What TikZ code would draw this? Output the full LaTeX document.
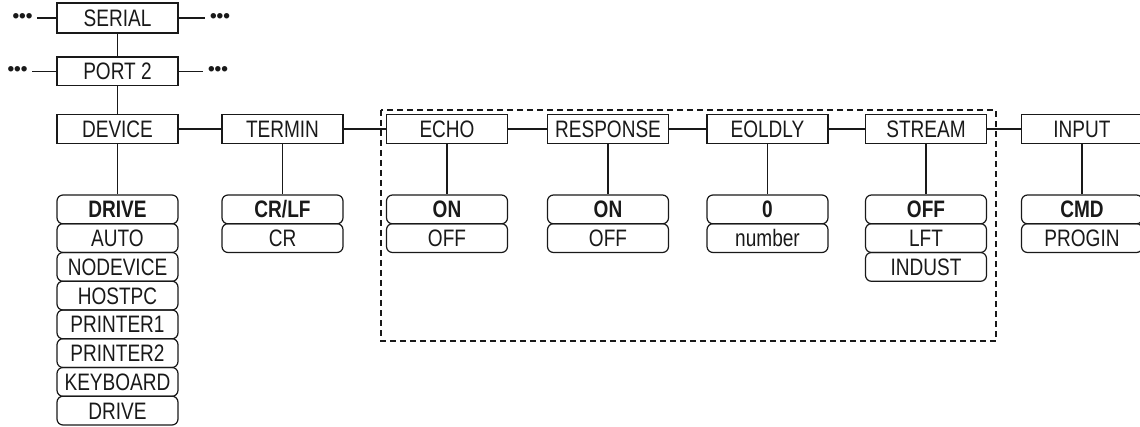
\documentclass[tikz,border=0pt]{standalone}
\usepackage{fontspec}
\setmainfont{Liberation Sans}[FakeStretch=0.8]
\newfontfamily\dotfont{Liberation Sans}
\usetikzlibrary{positioning}

\begin{document}
\begin{tikzpicture}[
                x=0.5pt, y=-0.5pt,
                color=black!90,
                line width=0.6pt,
                menu/.style={
                        draw,
                        minimum width=60.5pt,
                        minimum height=14.4pt,
                        inner sep=0pt,
                        text height=8.5pt,
                        text depth=0pt,
                        font=\fontsize{11.9}{13}\selectfont
                    },
                opt/.style={menu, rounded corners=3pt},
                dflt/.style={opt, font=\fontsize{11.9}{13}\selectfont\bfseries},
                more/.style={inner sep=0pt, inner xsep=2pt, font=\dotfont\fontsize{9.5}{11}\selectfont\bfseries},
                group/.style={dashed, dash pattern=on 3pt off 2pt}
            ]
            \useasboundingbox (0,0) rectangle (1140,427);

            % Niveles superiores
            \node[menu, minimum height=15pt] (serial) at (117.5,18) {SERIAL};
            \node[more] (serial-l) at (22.5,18) {•••};
            \node[more] (serial-r) at (220,18) {•••};
            \node[menu] (port) at (117.5,71.5) {PORT 2};
            \node[more] (port-l) at (17.5,71.5) {•••};
            \node[more] (port-r) at (218,71.5) {•••};

            \draw (serial-l) -- (serial);
            \draw (serial) -- (serial-r);
            \draw (port-l) -- (port);
            \draw (port) -- (port-r);
            \draw (serial) -- (port);

            % Parametros
            \node[menu] (device)   at (117.5,129) {DEVICE};
            \node[menu] (termin)   at (282.5,129) {TERMIN};
            \node[menu] (echo)     at (447,129)   {ECHO};
            \node[menu] (response) at (608,129)   {RESPONSE};
            \node[menu] (eoldly)   at (767.5,129) {EOLDLY};
            \node[menu] (stream)   at (926,129)   {STREAM};
            \node[menu] (input)    at (1082,129)  {INPUT};

            \draw (port) -- (device);
            \draw (device) -- (termin);
            \draw (termin) -- (echo);
            \draw (echo) -- (response);
            \draw (response) -- (eoldly);
            \draw (eoldly) -- (stream);
            \draw (stream) -- (input);

            % DEVICE
            \node[dflt] (device-1) at (117.5,209.4) {DRIVE};
            \node[opt]  (device-2) at (117.5,238.1) {AUTO};
            \node[opt]  (device-3) at (117.5,266.9) {NODEVICE};
            \node[opt]  (device-4) at (117.5,295.6) {HOSTPC};
            \node[opt]  (device-5) at (117.5,324.4) {PRINTER1};
            \node[opt]  (device-6) at (117.5,353.1) {PRINTER2};
            \node[opt]  (device-7) at (117.5,381.9) {KEYBOARD};
            \node[opt]  (device-8) at (117.5,410.6) {DRIVE};
            \draw (device) -- (device-1);

            % TERMIN
            \node[dflt] (termin-1) at (282.5,209.4) {CR/LF};
            \node[opt]  (termin-2) at (282.5,238.1) {CR};
            \draw (termin) -- (termin-1);

            % ECHO
            \node[dflt] (echo-1) at (447,209.4) {ON};
            \node[opt]  (echo-2) at (447,238.1) {OFF};
            \draw (echo) -- (echo-1);

            % RESPONSE
            \node[dflt] (response-1) at (608,209.4) {ON};
            \node[opt]  (response-2) at (608,238.1) {OFF};
            \draw (response) -- (response-1);

            % EOLDLY
            \node[dflt] (eoldly-1) at (767.5,209.4) {0};
            \node[opt]  (eoldly-2) at (767.5,238.1) {number};
            \draw (eoldly) -- (eoldly-1);

            % STREAM
            \node[dflt] (stream-1) at (926,209.4) {OFF};
            \node[opt]  (stream-2) at (926,238.1) {LFT};
            \node[opt]  (stream-3) at (926,266.9) {INDUST};
            \draw (stream) -- (stream-1);

            % INPUT
            \node[dflt] (input-1) at (1082,209.4) {CMD};
            \node[opt]  (input-2) at (1082,238.1) {PROGIN};
            \draw (input) -- (input-1);

            % Grupo discontinuo
            \draw[group] (381,110) rectangle (996,341);

        \end{tikzpicture}
\end{document}
